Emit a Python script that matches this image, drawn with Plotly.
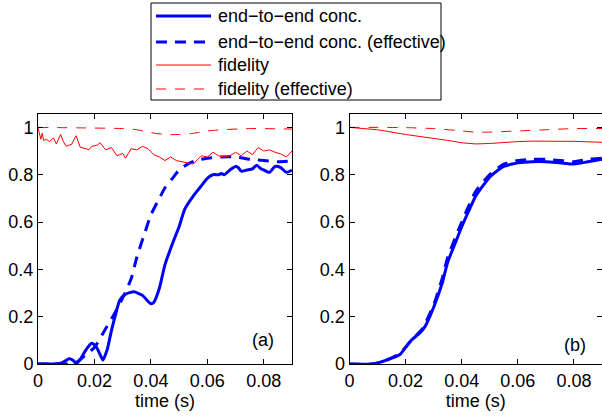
import plotly.graph_objects as go

# ---------------- data ----------------
# Panel (a)
t_conc_a = [0, 0.005, 0.008, 0.0095, 0.011, 0.0125, 0.0135, 0.015, 0.017, 0.019, 0.0205, 0.022, 0.023,
            0.0245, 0.026, 0.0275, 0.029, 0.031, 0.034, 0.037, 0.039, 0.040, 0.041, 0.043, 0.045, 0.048,
            0.050, 0.052, 0.055, 0.058, 0.060, 0.062, 0.064, 0.065, 0.066, 0.068, 0.070, 0.071, 0.072,
            0.074, 0.076, 0.0775, 0.079, 0.080, 0.082, 0.084, 0.086, 0.088, 0.090]
conc_a = [0, 0, 0.003, 0.012, 0.022, 0.015, 0.002, 0.02, 0.06, 0.088, 0.075, 0.04, 0.017,
          0.06, 0.14, 0.21, 0.27, 0.295, 0.305, 0.29, 0.265, 0.255, 0.26, 0.32, 0.42, 0.52,
          0.58, 0.655, 0.71, 0.755, 0.785, 0.80, 0.80, 0.805, 0.80, 0.82, 0.835, 0.83, 0.815,
          0.82, 0.825, 0.84, 0.825, 0.82, 0.81, 0.835, 0.83, 0.81, 0.82]

t_conc_eff_a = [0, 0.010, 0.012, 0.014, 0.017, 0.020, 0.024, 0.027, 0.030, 0.033, 0.035, 0.038, 0.040,
                0.043, 0.045, 0.048, 0.050, 0.053, 0.056, 0.060, 0.065, 0.070, 0.075, 0.080, 0.085, 0.090]
conc_eff_a = [0, 0, 0.002, 0.01, 0.04, 0.07, 0.15, 0.21, 0.28, 0.36, 0.45, 0.56, 0.63,
              0.70, 0.745, 0.79, 0.82, 0.845, 0.86, 0.87, 0.875, 0.875, 0.865, 0.86, 0.855, 0.858]

t_fid_a = [0, 0.001, 0.0015, 0.002, 0.003, 0.004, 0.0055, 0.0065, 0.008, 0.009, 0.010, 0.012, 0.0135,
           0.015, 0.017, 0.018, 0.019, 0.021, 0.022, 0.024, 0.026, 0.028, 0.030, 0.031, 0.033, 0.035,
           0.037, 0.039, 0.041, 0.043, 0.045, 0.047, 0.049, 0.051, 0.053, 0.055, 0.057, 0.058, 0.060,
           0.062, 0.064, 0.066, 0.068, 0.070, 0.072, 0.074, 0.076, 0.078, 0.080, 0.082, 0.084, 0.086,
           0.088, 0.090]
fid_a = [1.0, 0.95, 0.975, 0.945, 0.95, 0.94, 0.955, 0.93, 0.97, 0.94, 0.92, 0.93, 0.965,
         0.915, 0.91, 0.905, 0.92, 0.925, 0.935, 0.905, 0.915, 0.88, 0.89, 0.87, 0.91, 0.905,
         0.92, 0.91, 0.885, 0.875, 0.86, 0.875, 0.86, 0.855, 0.852, 0.845, 0.87, 0.88, 0.875,
         0.895, 0.88, 0.875, 0.88, 0.895, 0.88, 0.90, 0.885, 0.915, 0.90, 0.905, 0.895, 0.888,
         0.875, 0.90]

t_fid_eff_a = [0, 0.015, 0.030, 0.035, 0.040, 0.045, 0.050, 0.055, 0.060, 0.065, 0.075, 0.090]
fid_eff_a = [1.0, 0.998, 0.995, 0.99, 0.978, 0.97, 0.97, 0.975, 0.985, 0.99, 0.995, 0.993]

# Panel (b)
t_conc_b = [0, 0.008, 0.011, 0.015, 0.018, 0.020, 0.022, 0.025, 0.027, 0.030, 0.033, 0.035, 0.038,
            0.040, 0.043, 0.045, 0.048, 0.050, 0.053, 0.055, 0.058, 0.060, 0.065, 0.070, 0.075,
            0.080, 0.085, 0.090]
conc_b = [0, 0, 0.008, 0.025, 0.04, 0.07, 0.10, 0.13, 0.16, 0.24, 0.34, 0.43, 0.52,
          0.58, 0.66, 0.71, 0.76, 0.79, 0.82, 0.835, 0.845, 0.85, 0.855, 0.855, 0.85,
          0.845, 0.855, 0.865]

t_conc_eff_b = [0, 0.008, 0.012, 0.018, 0.022, 0.026, 0.030, 0.033, 0.035, 0.040, 0.045, 0.050,
                0.055, 0.060, 0.065, 0.070, 0.075, 0.080, 0.085, 0.090]
conc_eff_b = [0, 0, 0.01, 0.045, 0.10, 0.15, 0.25, 0.36, 0.45, 0.60, 0.73, 0.80,
              0.845, 0.86, 0.865, 0.865, 0.86, 0.855, 0.865, 0.87]

t_fid_b = [0, 0.010, 0.020, 0.030, 0.035, 0.040, 0.045, 0.050, 0.055, 0.060, 0.065, 0.070, 0.080, 0.090]
fid_b = [1.0, 0.99, 0.97, 0.955, 0.945, 0.935, 0.93, 0.932, 0.937, 0.94, 0.942, 0.942, 0.941, 0.937]

t_fid_eff_b = [0, 0.010, 0.020, 0.030, 0.040, 0.045, 0.050, 0.060, 0.070, 0.080, 0.090]
fid_eff_b = [1.0, 1.0, 0.999, 0.995, 0.985, 0.98, 0.98, 0.985, 0.99, 0.995, 0.995]

x_tickvals = [0, 0.02, 0.04, 0.06, 0.08]
x_ticktext = ["0", "0.02", "0.04", "0.06", "0.08"]
y_tickvals = [0, 0.2, 0.4, 0.6, 0.8, 1.0]
y_ticktext = ["0", "0.2", "0.4", "0.6", "0.8", "1"]
legend_names = ["end\u2212to\u2212end conc.", "end\u2212to\u2212end conc. (effective)",
                "fidelity", "fidelity (effective)"]
panel_labels = ["(a)", "(b)"]
panel_label_pos = [(0.0797, 0.1), (0.0804, 0.08)]

# ---------------- styles ----------------
FONT = "Liberation Sans, Arial, Helvetica, sans-serif"
FS = 18
BLUE = "#0000ff"
RED = "#ff0000"
styles = [
    dict(color=BLUE, width=3, dash="solid", shape="spline"),
    dict(color=BLUE, width=3, dash="11px,8px", shape="spline"),
    dict(color=RED, width=1, dash="solid", shape="linear"),
    dict(color=RED, width=1, dash="10px,9px", shape="spline"),
]

fig = go.Figure()

panels = [
    ("x", "y", [(t_conc_a, conc_a), (t_conc_eff_a, conc_eff_a), (t_fid_a, fid_a), (t_fid_eff_a, fid_eff_a)]),
    ("x2", "y2", [(t_conc_b, conc_b), (t_conc_eff_b, conc_eff_b), (t_fid_b, fid_b), (t_fid_eff_b, fid_eff_b)]),
]
for xa, ya, series in panels:
    for (tt, vv), st, nm in zip(series, styles, legend_names):
        line = dict(color=st["color"], width=st["width"], dash=st["dash"], shape=st["shape"])
        if st["shape"] == "spline":
            line["smoothing"] = 0.6
        fig.add_trace(go.Scatter(x=tt, y=vv, mode="lines", name=nm, line=line,
                                 xaxis=xa, yaxis=ya, showlegend=False, hoverinfo="skip"))

axis_common = dict(showline=True, linecolor="black", linewidth=1, mirror="ticks",
                   ticks="inside", ticklen=5, tickcolor="black", showgrid=False, zeroline=False,
                   tickfont=dict(family=FONT, size=FS, color="black"))
xaxis_common = dict(axis_common, range=[0, 0.09], tickvals=x_tickvals, ticktext=x_ticktext,
                    title=dict(text="time (s)", font=dict(family=FONT, size=FS, color="black"), standoff=2))
yaxis_common = dict(axis_common, range=[0, 1.0566], tickvals=y_tickvals, ticktext=y_ticktext)

L, R, T, B = 38, 0, 114, 52
W, H = 602, 416
pw = W - L - R
ph = H - T - B

def px_x(p):
    return (p - L) / pw

def px_y(p):
    return (H - B - p) / ph

fig.update_layout(
    width=W, height=H,
    margin=dict(l=L, r=R, t=T, b=B, pad=0),
    paper_bgcolor="white", plot_bgcolor="white",
    font=dict(family=FONT, size=FS, color="black"),
    xaxis=dict(xaxis_common, domain=[0, px_x(292)], anchor="y"),
    yaxis=dict(yaxis_common, domain=[0, 1], anchor="x"),
    xaxis2=dict(xaxis_common, domain=[px_x(349.5), 1], anchor="y2"),
    yaxis2=dict(yaxis_common, domain=[0, 1], anchor="x2"),
    showlegend=False,
)

# panel labels
for (lx, ly), txt, xa, ya in zip(panel_label_pos, panel_labels, ["x", "x2"], ["y", "y2"]):
    fig.add_annotation(x=lx, y=ly, xref=xa, yref=ya, text=txt, showarrow=False,
                       font=dict(family=FONT, size=FS, color="black"))

# manual legend (MATLAB style) in paper coordinates
shapes = [dict(type="rect", xref="paper", yref="paper",
               x0=px_x(151), x1=px_x(441), y0=px_y(100), y1=px_y(3),
               line=dict(color="black", width=1), fillcolor="white", layer="above")]
row_y = [16, 42, 65, 89]
for st, nm, ry in zip(styles, legend_names, row_y):
    shapes.append(dict(type="line", xref="paper", yref="paper",
                       x0=px_x(156), x1=px_x(211), y0=px_y(ry), y1=px_y(ry),
                       line=dict(color=st["color"], width=st["width"], dash=st["dash"]), layer="above"))
    fig.add_annotation(x=px_x(216), y=px_y(ry), xref="paper", yref="paper", text=nm,
                       showarrow=False, xanchor="left", yanchor="middle",
                       font=dict(family=FONT, size=FS, color="black"))
fig.update_layout(shapes=shapes)

fig.write_html("out.html", config={"displayModeBar": False},
               post_script="document.body.style.margin='0';document.body.style.padding='0';")
